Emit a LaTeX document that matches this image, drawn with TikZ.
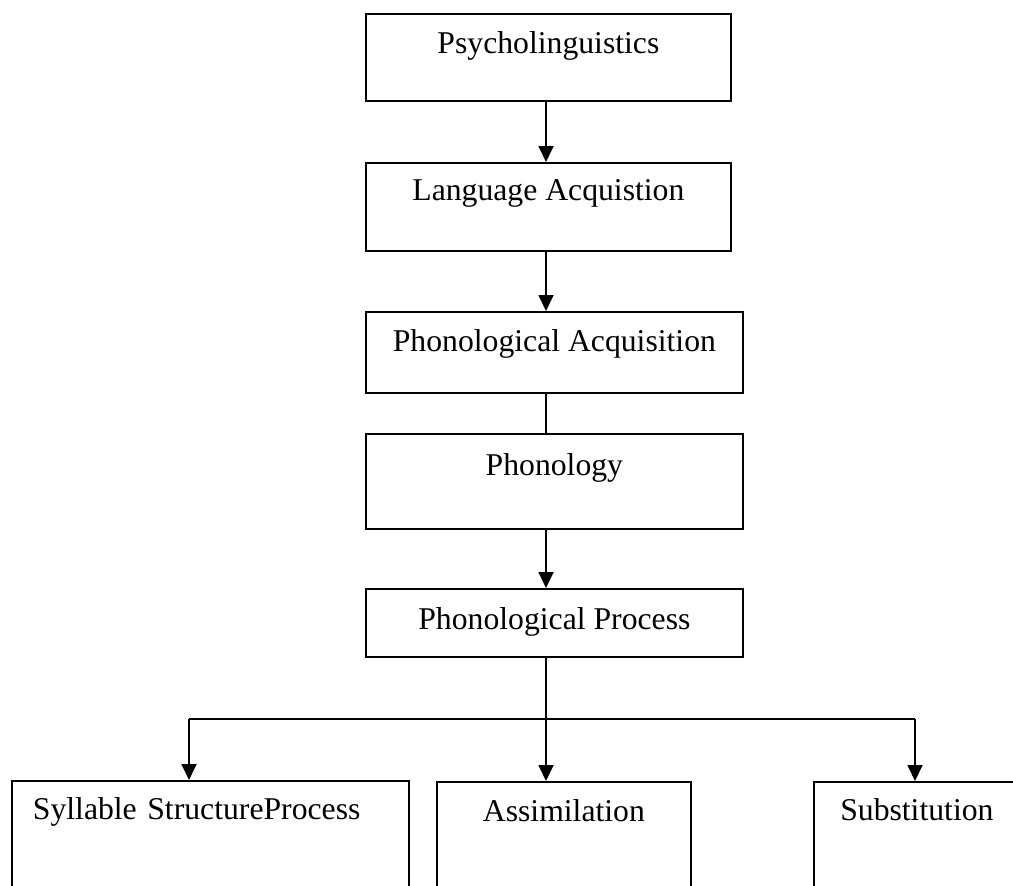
\documentclass[tikz,border=0pt]{standalone}
\usepackage{fontspec}
\setmainfont{Liberation Serif}
\usetikzlibrary{arrows.meta}

\newcommand{\chartfont}{\fontsize{31.7pt}{38pt}\selectfont}

\begin{document}
\begin{tikzpicture}[x=1pt, y=-1pt,
    box/.style={draw, line width=1.8pt, anchor=north west, inner sep=0pt, font=\chartfont},
    link/.style={line width=1.8pt},
    arc/.style={link, -{Triangle[length=16pt, width=15pt]}}]
      \useasboundingbox (0,0) rectangle (1013,886);
      \clip (0,0) rectangle (1013,886);

      % Boxes
      \node[box, minimum width=365pt, text height=40pt, text depth=47pt]
        (psy) at (365,13) {Psycholinguistics};
      \node[box, minimum width=365pt, text height=38pt, text depth=50pt]
        (lang) at (365,162) {Language Acquistion};
      \node[box, minimum width=377pt, text height=40pt, text depth=41pt]
        (phonacq) at (365,311) {Phonological Acquisition};
      \node[box, minimum width=377pt, text height=42pt, text depth=53pt]
        (phon) at (365,433) {Phonology};
      \node[box, minimum width=377pt, text height=41pt, text depth=27pt]
        (proc) at (365,588) {Phonological Process};

      \node[box, text width=355pt, align=left, inner xsep=21pt,
        text height=39pt, text depth=81pt]
        (syll) at (11,780) {Syllable StructureProcess};
      \node[box, minimum width=254pt, text height=40pt, text depth=80pt]
        (assim) at (436,781) {Assimilation};
      \node[box, minimum width=206pt, text height=39pt, text depth=81pt]
        (subst) at (813,781) {Substitution};

      % Arcs
      \coordinate (spine) at (546,0);
      \coordinate (split) at (546,719);
      \coordinate (lbend) at (189,719);
      \coordinate (rbend) at (915,719);

      \draw[arc] (psy.south -| spine) -- (lang.north -| spine);
      \draw[arc] (lang.south -| spine) -- (phonacq.north -| spine);
      \draw[link] (phonacq.south -| spine) -- (phon.north -| spine);
      \draw[arc] (phon.south -| spine) -- (proc.north -| spine);

      \draw[arc] (proc.south -| spine) -- (split) -- (assim.north -| split);
      \draw[link] (lbend) -- (rbend);
      \draw[arc] (lbend) -- (syll.north -| lbend);
      \draw[arc] (rbend) -- (subst.north -| rbend);
\end{tikzpicture}
\end{document}
